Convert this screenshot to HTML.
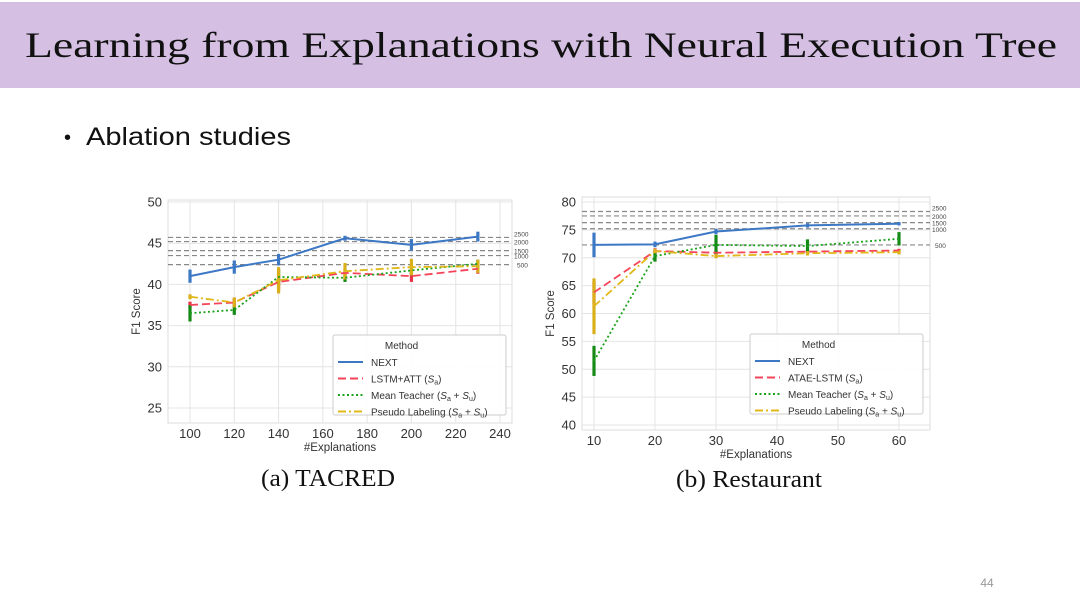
<!DOCTYPE html>
<html><head><meta charset="utf-8"><style>
body{margin:0;width:1080px;height:610px;background:#fff;overflow:hidden}
svg{display:block}
</style></head><body>
<svg id="s" width="1080" height="610" xmlns="http://www.w3.org/2000/svg" font-family="Liberation Sans, DejaVu Sans, sans-serif">
<rect x="0" y="2" width="1080" height="86" fill="#d5c0e3"/>
<text x="25" y="57" font-family="Liberation Serif, serif" font-size="36" textLength="1032" lengthAdjust="spacingAndGlyphs" fill="#111">Learning from Explanations with Neural Execution Tree</text>
<text x="64" y="144" font-size="20" fill="#111">•</text>
<text x="86" y="145" font-size="25" textLength="205" lengthAdjust="spacingAndGlyphs" fill="#111">Ablation studies</text>
<text x="328" y="486" text-anchor="middle" font-family="Liberation Serif, serif" font-size="24" textLength="134" lengthAdjust="spacingAndGlyphs" fill="#111">(a) TACRED</text>
<text x="749" y="487" text-anchor="middle" font-family="Liberation Serif, serif" font-size="24" textLength="146" lengthAdjust="spacingAndGlyphs" fill="#111">(b) Restaurant</text>
<text x="987" y="587" text-anchor="middle" font-size="12" fill="#999">44</text>
<g id="c1"></g><g id="c2"></g>
</svg>
<script>
const NS="http://www.w3.org/2000/svg";
function el(p,t,a,txt){const e=document.createElementNS(NS,t);for(const k in a)e.setAttribute(k,a[k]);if(txt!==undefined)e.innerHTML=txt;p.appendChild(e);return e;}
const styles=[{c:"#3d78c5",d:""},{c:"#f5445a",d:"8,4"},{c:"#1aa31a",d:"2,2.5"},{c:"#e0b81a",d:"8,3,2,3"}];
const ebc=["#3d78c5","#e8334a","#168a16","#d9b01a"];
function chart(g,o){
 const X=v=>o.x0+(v-o.vx0)*o.sx, Y=v=>o.y0-(v-o.vy0)*o.sy;
 el(g,"rect",{x:o.L,y:o.T,width:o.R-o.L,height:o.B-o.T,fill:"#fff",stroke:"#ddd","stroke-width":1});
 o.xt.forEach(v=>{el(g,"line",{x1:X(v),x2:X(v),y1:o.T,y2:o.B,stroke:"#e4e4e4"});el(g,"text",{x:X(v),y:o.B+15,"text-anchor":"middle","font-size":13,fill:"#333"},v);});
 o.yt.forEach(v=>{el(g,"line",{x1:o.L,x2:o.R,y1:Y(v),y2:Y(v),stroke:"#e4e4e4"});el(g,"text",{x:o.L-6,y:Y(v)+4.5,"text-anchor":"end","font-size":13,fill:"#333"},v);});
 el(g,"text",{x:(o.L+o.R)/2,y:o.B+28,"text-anchor":"middle","font-size":11.5,fill:"#333"},"#Explanations");
 el(g,"text",{x:0,y:0,transform:`translate(${o.L-28},${(o.T+o.B)/2}) rotate(-90)`,"text-anchor":"middle","font-size":11.5,fill:"#333"},"F1 Score");
 const lab=["2500","2000","1500","1000","500"];
 o.h.forEach((v,i)=>{el(g,"line",{x1:o.L,x2:o.R,y1:Y(v),y2:Y(v),stroke:"#888","stroke-dasharray":"5,3","stroke-width":1.2});
   el(g,"text",{x:o.R+(i==4?5:2),y:Y(v)+(i==0?-1:3),"font-size":6.5,fill:"#444"},lab[i]);});
 o.series.forEach((s,i)=>{
  s.forEach((v,j)=>{const e=o.err[i][j];el(g,"line",{x1:X(o.xs[j]),x2:X(o.xs[j]),y1:Y(v-e),y2:Y(v+e),stroke:ebc[i],"stroke-width":3.2});});
 });
 o.series.forEach((s,i)=>{
  el(g,"polyline",{points:s.map((v,j)=>X(o.xs[j])+","+Y(v)).join(" "),fill:"none",stroke:styles[i].c,"stroke-width":i==0?2:1.8,"stroke-dasharray":styles[i].d});
 });
 const lx=o.lg[0],ly=o.lg[1],lw=o.lg[2],lh=o.lg[3];
 el(g,"rect",{x:lx,y:ly,width:lw,height:lh,fill:"#fff","fill-opacity":0.9,stroke:"#ccc",rx:2});
 el(g,"text",{x:lx+lw*0.3,y:ly+14,"font-size":10,fill:"#333"},"Method");
 o.names.forEach((n,i)=>{const yy=ly+30+i*16.5;
  el(g,"line",{x1:lx+5,x2:lx+30,y1:yy-3,y2:yy-3,stroke:styles[i].c,"stroke-width":2,"stroke-dasharray":styles[i].d});
  el(g,"text",{x:lx+38,y:yy+1,"font-size":10,fill:"#333"},n);});
}
const N1="<tspan font-style='italic'>S</tspan><tspan font-size='7' dy='2'>a</tspan><tspan dy='-2'>)</tspan>";
const N2="(<tspan font-style='italic'>S</tspan><tspan font-size='7' dy='2'>a</tspan><tspan dy='-2'> + </tspan><tspan font-style='italic'>S</tspan><tspan font-size='7' dy='2'>u</tspan><tspan dy='-2'>)</tspan>";
chart(document.getElementById("c1"),{L:168,R:512,T:200,B:423,x0:190,vx0:100,sx:310/140,y0:202,vy0:50,sy:206/25,
 xt:[100,120,140,160,180,200,220,240],yt:[25,30,35,40,45,50],h:[45.7,45.2,44.1,43.5,42.4],
 xs:[100,120,140,170,200,230],
 series:[[41,42.1,43,45.6,44.8,45.8],[37.5,37.8,40.3,41.4,41,41.9],[36.5,36.9,40.9,40.8,41.7,42.5],[38.5,37.8,40.5,41.6,42.1,42.2]],
 err:[[0.8,0.8,0.7,0.3,0.7,0.6],[0.4,0.6,1,0.5,0.7,0.6],[1,0.6,1,0.5,0.6,0.5],[0.3,0.6,1.6,1,1,0.8]],
 lg:[333,335,173,80],names:["NEXT","LSTM+ATT ("+N1,"Mean Teacher "+N2,"Pseudo Labeling "+N2]});
chart(document.getElementById("c2"),{L:582,R:930,T:197,B:430,x0:594,vx0:10,sx:305/50,y0:202,vy0:80,sy:223/40,
 xt:[10,20,30,40,50,60],yt:[40,45,50,55,60,65,70,75,80],h:[78.3,77.5,76.3,75.2,72.3],
 xs:[10,20,30,45,60],
 series:[[72.3,72.4,74.7,75.8,76.1],[63.8,71.2,70.9,71.1,71.3],[51.5,70.3,72.3,72.1,73.4],[61.3,71.2,70.3,70.8,71.0]],
 err:[[2.2,0.5,0.5,0.4,0.3],[2,0.5,0.4,0.4,0.3],[2.7,1,1.8,1.2,1.2],[5,0.4,0.4,0.4,0.4]],
 lg:[750,334,173,80],names:["NEXT","ATAE-LSTM ("+N1,"Mean Teacher "+N2,"Pseudo Labeling "+N2]});
</script>
</body></html>
